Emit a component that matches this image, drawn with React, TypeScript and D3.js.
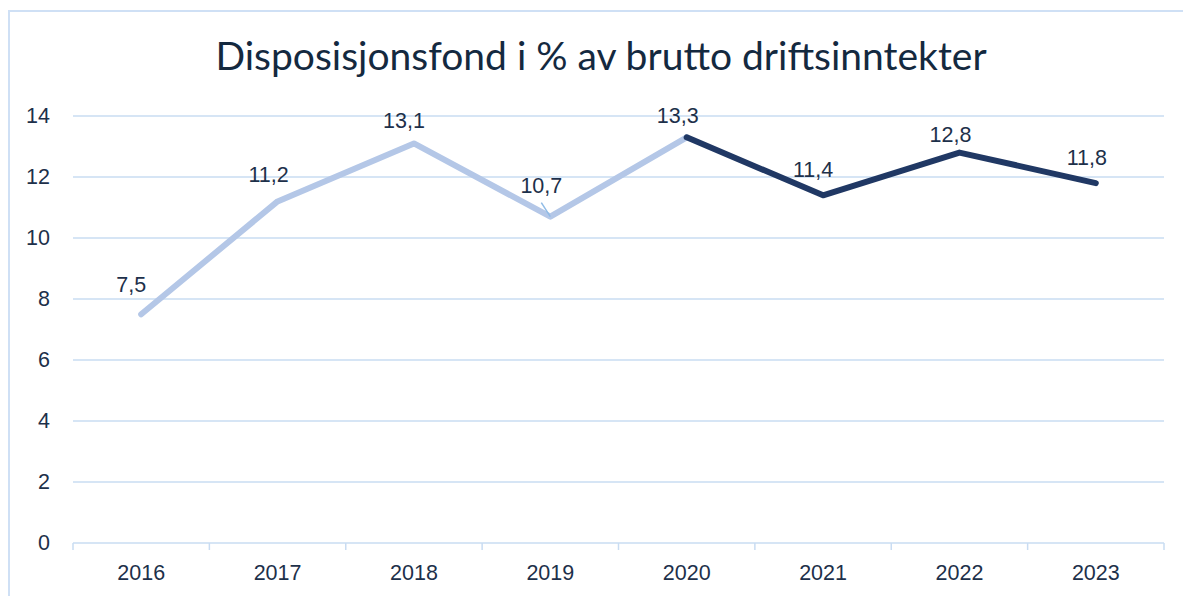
import React from "react";
import * as d3 from "d3";

const years = ["2016", "2017", "2018", "2019", "2020", "2021", "2022", "2023"];
const values = [7.5, 11.2, 13.1, 10.7, 13.3, 11.4, 12.8, 11.8];
const labels = ["7,5", "11,2", "13,1", "10,7", "13,3", "11,4", "12,8", "11,8"];
const yTicks = [0, 2, 4, 6, 8, 10, 12, 14];
const splitYear = "2020";
const title = "Disposisjonsfond i % av brutto driftsinntekter";

// label nudges (layout only): [dx, dy baseline above point]
const labelNudge: [number, number][] = [
  [-10, 22], [-9, 19], [-10, 15], [-9, 24], [-9, 14], [-10, 18], [-9, 11], [-9, 18],
];

const W = 1183;
const H = 596;
const left = 73;
const right = 1164;
const top = 116;
const bottom = 543;

export default function App() {
  const x = d3.scaleBand<string>().domain(years).range([left, right]);
  const y = d3.scaleLinear().domain([0, 14]).range([bottom, top]);
  const cx = (yr: string) => (x(yr) as number) + x.bandwidth() / 2;

  const pts = years.map((yr, i) => ({ yr, v: values[i], i }));
  const splitIdx = years.indexOf(splitYear);
  const first = pts.slice(0, splitIdx + 1);
  const second = pts.slice(splitIdx);
  const line = d3
    .line<{ yr: string; v: number }>()
    .x((d) => cx(d.yr))
    .y((d) => y(d.v));

  const textColor = "#1d304a";
  const gridColor = "#c9dcf2";
  const font = "'Liberation Sans', Arial, sans-serif";
  const fs = 21.5;

  return (
    <svg
      width={W}
      height={H}
      style={{ position: "absolute", left: 0, top: 0, display: "block" }}
    >
      <rect x={0} y={0} width={W} height={H} fill="#ffffff" />
      <rect
        x={9}
        y={11}
        width={W + 20}
        height={H + 20}
        fill="none"
        stroke="#cfe0f5"
        strokeWidth={2}
      />
      <text
        x={601}
        y={70}
        textAnchor="middle"
        fontFamily="Lato, 'Open Sans', sans-serif"
        fontSize={39}
        fill="#14293f"
      >
        {title}
      </text>
      {yTicks.map((t) => (
        <g key={t}>
          <line
            x1={left}
            x2={right}
            y1={y(t)}
            y2={y(t)}
            stroke={gridColor}
            strokeWidth={1.5}
          />
          <text
            x={50}
            y={y(t) + 7}
            textAnchor="end"
            fontFamily={font}
            fontSize={fs}
            fill={textColor}
          >
            {t}
          </text>
        </g>
      ))}
      {years.map((yr) => (
        <line
          key={"tk" + yr}
          x1={x(yr) as number}
          x2={x(yr) as number}
          y1={bottom}
          y2={bottom + 7}
          stroke={gridColor}
          strokeWidth={1.5}
        />
      ))}
      <line
        x1={right}
        x2={right}
        y1={bottom}
        y2={bottom + 7}
        stroke={gridColor}
        strokeWidth={1.5}
      />
      {years.map((yr) => (
        <text
          key={"xl" + yr}
          x={cx(yr)}
          y={580}
          textAnchor="middle"
          fontFamily={font}
          fontSize={fs}
          fill={textColor}
        >
          {yr}
        </text>
      ))}
      <path
        d={line(first) || ""}
        fill="none"
        stroke="#b4c7e7"
        strokeWidth={6}
        strokeLinejoin="round"
        strokeLinecap="round"
      />
      <path
        d={line(second) || ""}
        fill="none"
        stroke="#203864"
        strokeWidth={6}
        strokeLinejoin="round"
        strokeLinecap="round"
      />
      {/* leader line for 2019 */}
      <line
        x1={cx("2019") - 9}
        y1={y(values[3]) - 14}
        x2={cx("2019")}
        y2={y(values[3])}
        stroke="#8fbbe6"
        strokeWidth={1.5}
      />
      {pts.map((d) => (
        <text
          key={"dl" + d.yr}
          x={cx(d.yr) + labelNudge[d.i][0]}
          y={y(d.v) - labelNudge[d.i][1]}
          textAnchor="middle"
          fontFamily={font}
          fontSize={fs}
          fill={textColor}
        >
          {labels[d.i]}
        </text>
      ))}
    </svg>
  );
}
